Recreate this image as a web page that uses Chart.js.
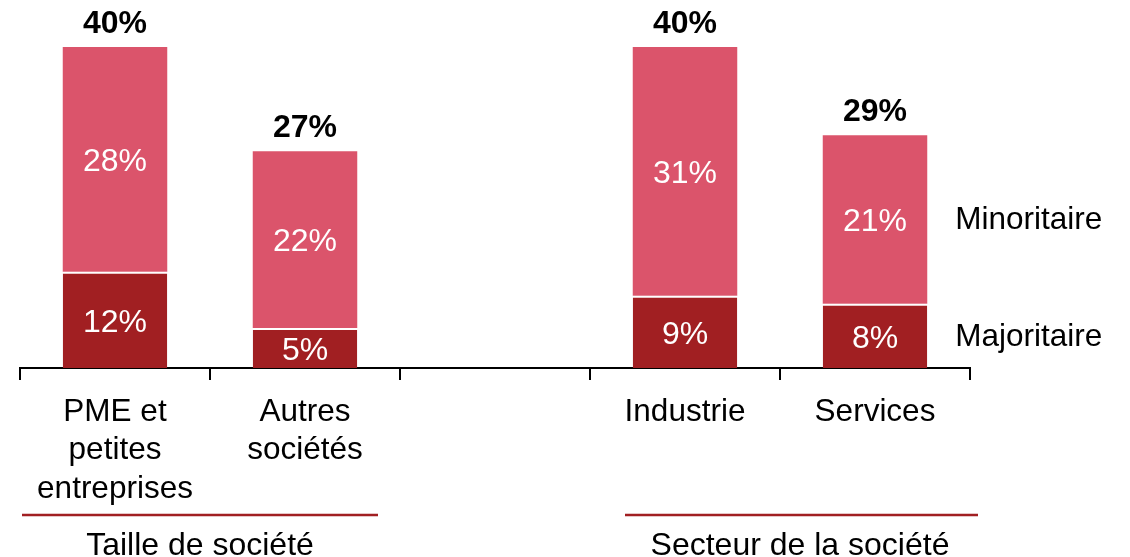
<!DOCTYPE html>
<html>
<head>
<meta charset="utf-8">
<script src="https://cdn.jsdelivr.net/npm/chart.js@4/dist/chart.umd.min.js"></script>
<style>
  body { margin: 0; background: #fff; }
  #wrap { width: 1130px; height: 557px; }
</style>
</head>
<body>
<div id="wrap"><canvas id="chart" width="1130" height="557"></canvas></div>
<script>
// data
let categories = [["PME et", "petites", "entreprises"], ["Autres", "sociétés"], "", "Industrie", "Services"];
let majoritaire = [12, 5, null, 9, 8];
let minoritaire = [28, 22, null, 31, 21];
let seriesNames = ["Majoritaire", "Minoritaire"];
let groupLabels = ["Taille de société", "Secteur de la société"];

// group underline extents (pixels) and label positions
let groupBox = [
  { x1: 22, x2: 378, cx: 200 },
  { x1: 625, x2: 978, cx: 800 }
];

const FONT = "'Liberation Sans', Arial, sans-serif";
const DARK = "#A11F22";
const PINK = "#DB546B";

const labelsPlugin = {
  id: "labelsPlugin",
  afterDatasetsDraw(chart) {
    let ctx = chart.ctx;
    ctx.save();
    ctx.textAlign = "center";
    ctx.textBaseline = "middle";

    // values inside each segment
    ctx.fillStyle = "#fff";
    ctx.font = "32px " + FONT;
    chart.data.datasets.forEach((ds, i) => {
      let meta = chart.getDatasetMeta(i);
      meta.data.forEach((el, j) => {
        if (ds.data[j] == null) return;
        ctx.fillText(ds.data[j] + "%", el.x, (el.y + el.base) / 2 + 3);
      });
    });

    // totals above
    ctx.fillStyle = "#000";
    ctx.font = "bold 32px " + FONT;
    let topMeta = chart.getDatasetMeta(1);
    categories.forEach((c, j) => {
      if (majoritaire[j] == null) return;
      let total = majoritaire[j] + minoritaire[j];
      let el = topMeta.data[j];
      ctx.fillText(total + "%", el.x, el.y - 23);
    });

    // series names right of last bar
    ctx.textAlign = "left";
    ctx.font = "31.5px " + FONT;
    let last = categories.length - 1;
    chart.data.datasets.forEach((ds, i) => {
      let el = chart.getDatasetMeta(i).data[last];
      ctx.fillText(seriesNames[i], el.x + el.width / 2 + 28, (el.y + el.base) / 2 + 1);
    });

    // group lines and labels
    ctx.textAlign = "center";
    ctx.font = "32px " + FONT;
    groupLabels.forEach((g, k) => {
      let b = groupBox[k];
      ctx.strokeStyle = DARK;
      ctx.lineWidth = 2.5;
      ctx.beginPath();
      ctx.moveTo(b.x1, 515);
      ctx.lineTo(b.x2, 515);
      ctx.stroke();
      ctx.fillStyle = "#000";
      ctx.fillText(g, b.cx, 546);
    });
    ctx.restore();
  }
};

new Chart(document.getElementById("chart"), {
  type: "bar",
  data: {
    labels: categories,
    datasets: [
      {
        label: seriesNames[0],
        data: majoritaire,
        backgroundColor: DARK,
        borderColor: "#fff",
        borderWidth: { top: 2, left: 0, right: 0, bottom: 0 },
        borderSkipped: false
      },
      {
        label: seriesNames[1],
        data: minoritaire,
        backgroundColor: PINK,
        borderWidth: 0
      }
    ]
  },
  options: {
    responsive: false,
    animation: false,
    categoryPercentage: 1,
    barPercentage: 0.55,
    layout: { padding: { left: 20, right: 160, top: 47, bottom: 0 } },
    plugins: {
      legend: { display: false },
      tooltip: { enabled: false }
    },
    scales: {
      x: {
        stacked: true,
        afterFit(scale) { scale.height = 189; },
        grid: { drawOnChartArea: false, drawTicks: true, tickLength: 12, color: "#000", lineWidth: 2 },
        border: { display: true, color: "#000", width: 2 },
        ticks: {
          autoSkip: false,
          maxRotation: 0,
          padding: 13,
          color: "#000",
          font: { family: FONT, size: 31.5, lineHeight: 1.22 }
        }
      },
      y: {
        stacked: true,
        display: false,
        min: 0,
        max: 40
      }
    }
  },
  plugins: [labelsPlugin]
});
</script>
</body>
</html>
